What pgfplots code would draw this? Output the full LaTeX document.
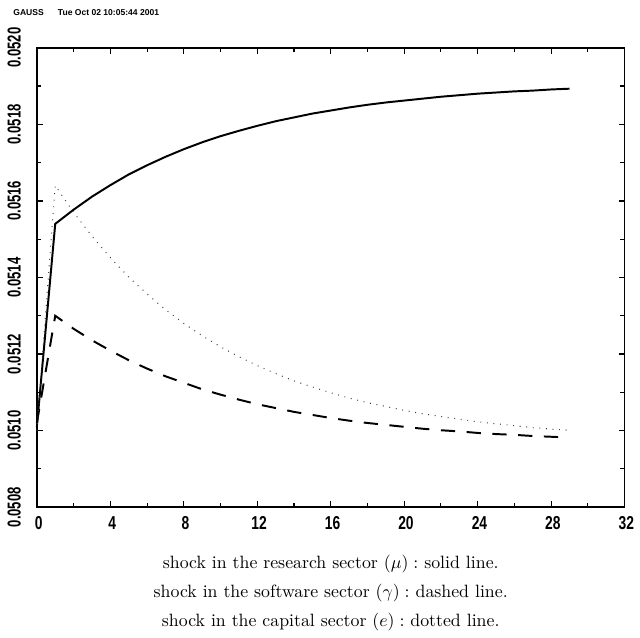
\documentclass[border=0pt]{standalone}
\usepackage{pgfplots}
\pgfplotsset{compat=1.18}
\usepackage{graphicx}
\usepackage{fontspec}
\newfontfamily\gaussfont{Liberation Sans}

% impulse responses, periods 0..29
\pgfplotstableread{
t v
0 0.051010
1 0.051540
2 0.051577
3 0.051611
4 0.051641
5 0.051669
6 0.051693
7 0.051715
8 0.051735
9 0.051753
10 0.051769
11 0.051783
12 0.051796
13 0.051808
14 0.051818
15 0.051828
16 0.051836
17 0.051844
18 0.051851
19 0.051857
20 0.051862
21 0.051867
22 0.051872
23 0.051876
24 0.051880
25 0.051883
26 0.051886
27 0.051888
28 0.051891
29 0.051893
}\research

\pgfplotstableread{
t v
0 0.051020
1 0.051300
2 0.051266
3 0.051236
4 0.051209
5 0.051184
6 0.051162
7 0.051142
8 0.051125
9 0.051108
10 0.051094
11 0.051081
12 0.051069
13 0.051059
14 0.051049
15 0.051041
16 0.051033
17 0.051026
18 0.051020
19 0.051015
20 0.051010
21 0.051005
22 0.051001
23 0.050998
24 0.050994
25 0.050991
26 0.050989
27 0.050986
28 0.050984
29 0.050982
}\software

\pgfplotstableread{
t v
0 0.051000
1 0.051640
2 0.051570
3 0.051508
4 0.051452
5 0.051401
6 0.051357
7 0.051316
8 0.051280
9 0.051248
10 0.051219
11 0.051193
12 0.051170
13 0.051149
14 0.051130
15 0.051114
16 0.051099
17 0.051085
18 0.051073
19 0.051063
20 0.051053
21 0.051044
22 0.051037
23 0.051030
24 0.051023
25 0.051018
26 0.051013
27 0.051008
28 0.051004
29 0.051001
}\capital

\begin{document}
\begin{tikzpicture}
\begin{axis}[
  name=ax,
  scale only axis, width=330pt, height=258pt,
  xmin=0, xmax=32, ymin=0.0508, ymax=0.0520,
  xtick={0,4,...,32}, minor x tick num=1,
  ytick={0.0508,0.0510,0.0512,0.0514,0.0516,0.0518,0.0520},
  minor y tick num=1,
  scaled y ticks=false,
  tick pos=both, tick align=inside,
  major tick length=3.4pt, minor tick length=2.4pt,
  axis line style={line width=1pt},
  every tick/.style={black, line width=0.7pt},
  every minor tick/.style={black, line width=0.6pt},
  ticklabel style={font=\fontsize{10.5}{12}\selectfont\gaussfont\bfseries},
  xticklabel={\scalebox{0.74}[1]{\pgfmathprintnumber[assume math mode=true]{\tick}}},
  yticklabel={\scalebox{0.70}[1]{\pgfmathprintnumber[fixed,precision=4,zerofill,assume math mode=true]{\tick}}},
  yticklabel style={rotate=90, anchor=south},
  yticklabel shift=5.5pt,
  xticklabel style={xshift=1pt, yshift=-1.5pt},
  clip=false,
]
\addplot[black, line width=1.1pt] table[x=t, y=v] {\research};
\addplot[black, line width=1.1pt, dash pattern=on 8pt off 6.5pt] table[x=t, y=v] {\software};
\addplot[black!75, line width=0.6pt, dash pattern=on 0.5pt off 3.2pt] table[x=t, y=v] {\capital};
\end{axis}
\node[anchor=base west, inner sep=0pt, font=\fontsize{4.8}{5}\selectfont\gaussfont\bfseries]
  at ([xshift=-13.4pt, yshift=18pt]ax.north west) {GAUSS\hspace{8pt}Tue Oct 02 10:05:44 2001};
\path (ax.south) ++(0,-34.5pt) node[anchor=base] {shock in the research sector $(\mu):$ solid line.}
      ++(0,-16.2pt) node[anchor=base] {shock in the software sector $(\gamma):$ dashed line.}
      ++(0,-16.2pt) node[anchor=base] {shock in the capital sector $(e):$ dotted line.};
\path ([xshift=-20.7pt, yshift=26.8pt]ax.north west) ([xshift=5pt, yshift=-73.2pt]ax.south east);
\end{tikzpicture}
\end{document}
